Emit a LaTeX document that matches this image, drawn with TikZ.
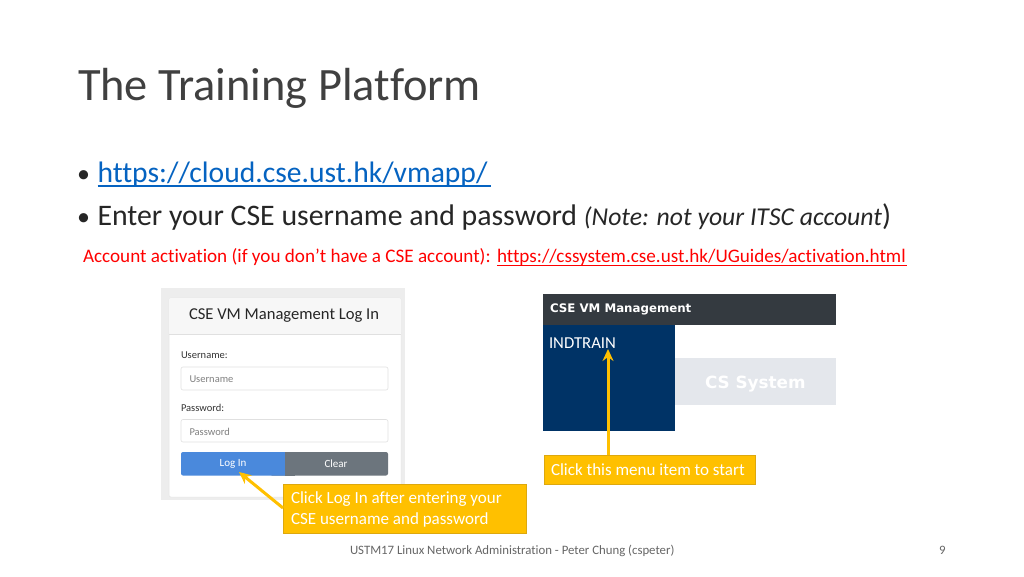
\documentclass[tikz,border=0pt]{standalone}
\usepackage{fontspec}
\setmainfont[Ligatures=NoCommon]{Carlito}
\newfontfamily\wide{DejaVu Sans}
\definecolor{linkblue}{HTML}{0563C1}
\definecolor{callfill}{HTML}{FFC000}
\definecolor{callline}{HTML}{DDA80E}
\definecolor{darkbar}{HTML}{343A40}
\definecolor{navy}{HTML}{003366}
\definecolor{cardhead}{HTML}{F7F7F7}
\definecolor{btnblue}{HTML}{4A89DC}
\definecolor{btngrey}{HTML}{6C757D}
\definecolor{band}{HTML}{E4E7EC}
\tikzset{
  txt/.style={anchor=base west,inner sep=0pt,outer sep=0pt},
  callout/.style={draw=callline,fill=callfill,line width=0.8pt,text=white,inner sep=0pt},
  pointer/.style={draw=callfill,line width=3pt,-{Stealth[length=12pt,width=11pt]}},
  field/.style={draw=black!12,fill=white,rounded corners=2pt,line width=0.6pt},
  formlabel/.style={txt,font=\fontsize{10.5}{12}\selectfont,text=black!80},
  hint/.style={txt,font=\fontsize{10.5}{12}\selectfont,text=black!50},
}
\usetikzlibrary{arrows.meta}
\begin{document}
\begin{tikzpicture}[x=1pt,y=-1pt]
\useasboundingbox (0,0) rectangle (1024,576);
\fill[white] (0,0) rectangle (1024,576);
\node[txt,font=\fontsize{46.4}{50}\selectfont,text=black!75] (title) at (78,100) {The Training Platform};
\node[txt,font=\fontsize{26}{32}\selectfont,text=black!85] (b1) at (77,182) {•};
\node[txt,font=\fontsize{29.6}{32}\selectfont,text=linkblue] (url) at (97.5,182) {https://cloud.cse.ust.hk/vmapp/};
\draw[linkblue,line width=1.2pt] (97.5,186) -- (491,186);
\node[txt,font=\fontsize{26}{32}\selectfont,text=black!85] (b2) at (77,225) {•};
\node[txt,font=\fontsize{29.8}{32}\selectfont,text=black!85] (enter) at (97.5,225) {Enter your CSE username and password \fontsize{25.7}{28}\selectfont\itshape (Note: not your ITSC account\upshape\fontsize{29.8}{32}\selectfont)};
\node[txt,font=\fontsize{19.15}{22}\selectfont,text=red] (act) at (83,262) {Account activation (if you don’t have a CSE account): };
\node[txt,font=\fontsize{19.15}{22}\selectfont,text=red] (acturl) at (497,262) {https://cssystem.cse.ust.hk/UGuides/activation.html};
\draw[red,line width=0.9pt] (497,265) -- (907,265);
% login screenshot
\fill[black!7] (161,288) rectangle (405,500);
\fill[white,draw=black!10,line width=0.5pt,rounded corners=2pt] (169,298) rectangle (401,497);
\fill[cardhead,rounded corners=2pt] (169,298) rectangle (401,334);
\draw[black!12,line width=0.6pt] (169,334.5) -- (401,334.5);
\node[txt,font=\fontsize{16.6}{20}\selectfont,text=black!85] (lt) at (189,319) {CSE VM Management Log In};
\node[formlabel] (ul) at (181,358) {Username:};
\draw[field] (181,367) rectangle (388,390);
\node[hint] (uh) at (189.5,382) {Username};
\node[formlabel] (pl) at (181,411) {Password:};
\draw[field] (181,419.5) rectangle (388,442);
\node[hint] (ph) at (189.5,435) {Password};
\fill[btngrey,rounded corners=2pt] (270,452) rectangle (388,475.5);
\fill[btnblue,rounded corners=2pt] (181,452) rectangle (290,475.5);
\fill[btngrey] (284.5,452) rectangle (295,475.5);
\node[font=\fontsize{11}{12}\selectfont,text=white] (login) at (233,464) {Log In};
\node[font=\fontsize{11}{12}\selectfont,text=white] (clear) at (336,464) {Clear};
% menu screenshot
\fill[darkbar] (543,294) rectangle (836,325);
\fill[navy] (543,325) rectangle (675,431);
\fill[band] (675,358) rectangle (836,405);
\node[txt,font=\wide\fontsize{11.8}{12}\selectfont\bfseries,text=white] (vm) at (550,312.5) {CSE VM Management};
\node[txt,font=\fontsize{16.7}{18}\selectfont,text=white] (ind) at (549,348) {INDTRAIN};
\node[txt,font=\wide\fontsize{16.8}{18}\selectfont\bfseries,text=white] (cs) at (705,388) {CS System};
% callouts
\node[callout,minimum width=211.5pt,minimum height=28.5pt,anchor=north west] (c1) at (543.5,455) {};
\node[txt,font=\fontsize{17}{20}\selectfont,text=white] (c1t) at (551,475) {Click this menu item to start};
\node[callout,minimum width=243pt,minimum height=49pt,anchor=north west] (c2) at (283,483.5) {};
\node[txt,font=\fontsize{17}{20}\selectfont,text=white] (c2a) at (291,503.5) {Click Log In after entering your};
\node[txt,font=\fontsize{17}{20}\selectfont,text=white] (c2b) at (291,524) {CSE username and password};
\coordinate (p1) at (608,455);
\coordinate (p1e) at (608,349);
\coordinate (p2) at (283,508);
\coordinate (p2e) at (239,472);
\draw[pointer] (p1) -- (p1e);
\draw[pointer] (p2) -- (p2e);
% footer
\node[txt,font=\fontsize{12.8}{14}\selectfont,text=black!60] (foot) at (350,554) {USTM17 Linux Network Administration - Peter Chung (cspeter)};
\node[txt,font=\fontsize{12.8}{14}\selectfont,text=black!60] (num) at (939,554) {9};
\end{tikzpicture}
\end{document}
